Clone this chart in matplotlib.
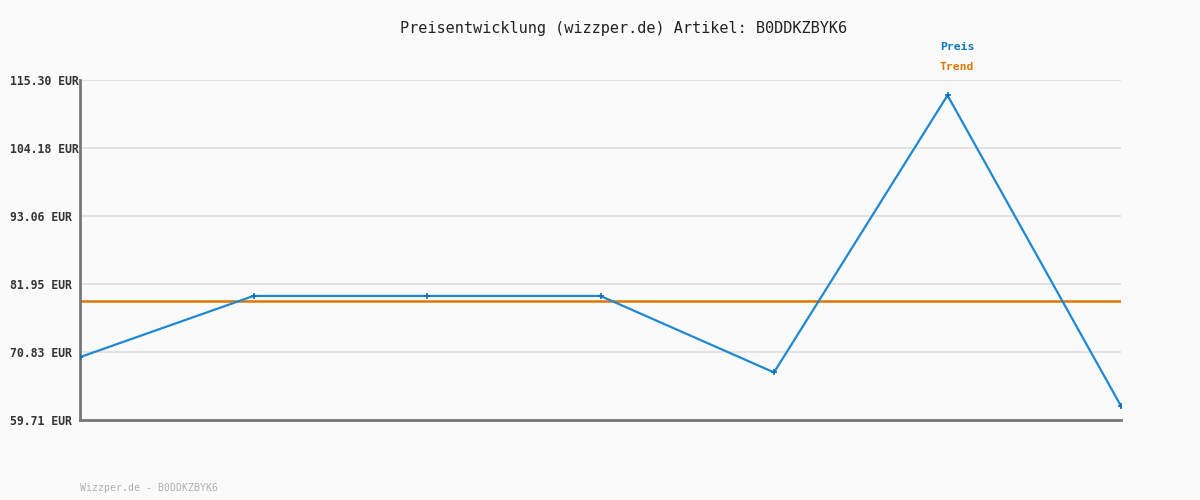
import numpy as np
import matplotlib
matplotlib.use("Agg")
import matplotlib.pyplot as plt

# data
preis = [69.99, 79.99, 79.99, 79.99, 67.49, 112.79, 61.99]
trend = 79.1
yticks = [59.71, 70.83, 81.95, 93.06, 104.18, 115.30]
artikel = "B0DDKZBYK6"

mono = "DejaVu Sans Mono"
bg = "#fafafa"
blue = "#1f88d2"
orange = "#dd7700"

fig = plt.figure(figsize=(12, 5), dpi=100, facecolor=bg)
ax = fig.add_axes([80/1200, 80/500, (1121-80)/1200, 340/500])
ax.set_facecolor(bg)

x = np.arange(len(preis))
ax.plot(x, preis, color=blue, lw=1.6, marker="+", ms=4, mew=1.2, mec="#0a6fbf", zorder=3)
ax.axhline(trend, color=orange, lw=1.8, zorder=2)

ax.set_xlim(0, len(preis) - 1)
ax.set_ylim(yticks[0], yticks[-1])
ax.set_yticks(yticks)
ax.set_yticklabels([f"{v:.2f} EUR" for v in yticks], fontfamily=mono,
                   fontweight="bold", fontsize=8.3, color="#333333", ha="left")
ax.set_xticks([])
# labels left aligned at x=10px
ax.tick_params(axis="y", length=0, pad=70 * 0.72)
ax.grid(axis="y", color="#e3e3e3", lw=1.5)
ax.set_axisbelow(True)

for s in ["top", "right"]:
    ax.spines[s].set_visible(False)
for s in ["left", "bottom"]:
    ax.spines[s].set_color("#777777")
    ax.spines[s].set_linewidth(2)

fig.text(624/1200, 1 - 28/500, f"Preisentwicklung (wizzper.de) Artikel: {artikel}",
         ha="center", va="center", fontfamily=mono, fontsize=11, color="#222222")
fig.text(940/1200, 1 - 47/500, "Preis", fontfamily=mono, fontweight="bold",
         fontsize=8.2, color="#0f77c0", va="center")
fig.text(940/1200, 1 - 67/500, "Trend", fontfamily=mono, fontweight="bold",
         fontsize=8.2, color=orange, va="center")
fig.text(80/1200, 1 - 488/500, f"Wizzper.de - {artikel}", fontfamily=mono,
         fontsize=7.1, color="#b0b0b0", va="center")

fig.savefig("out.png", dpi=100, facecolor=bg)
